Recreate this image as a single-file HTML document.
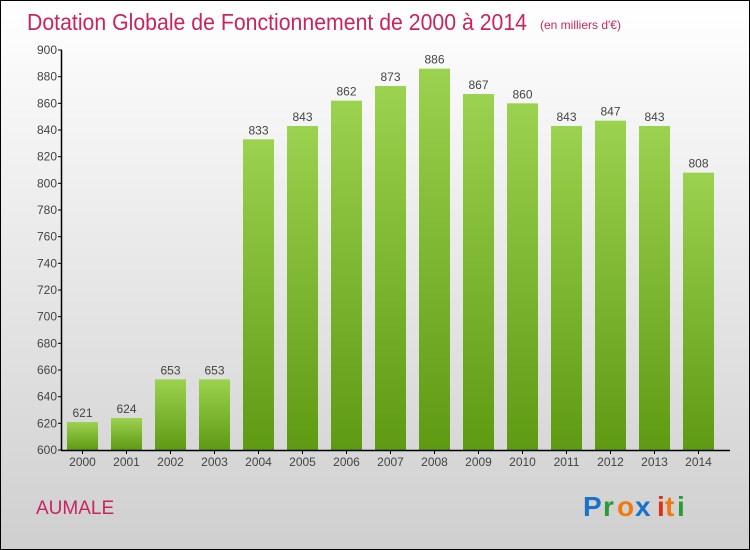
<!DOCTYPE html>
<html><head><meta charset="utf-8"><style>
body{margin:0}
#c{width:750px;height:550px;position:relative;overflow:hidden}
text{font-family:"Liberation Sans",sans-serif}
</style></head><body>
<div id="c">
<svg id="s" width="750" height="550" xmlns="http://www.w3.org/2000/svg">
<defs>
<linearGradient id="bg" x1="0" y1="0" x2="0" y2="1"><stop offset="0" stop-color="#ffffff"/><stop offset="1" stop-color="#cfcfcf"/></linearGradient>
<linearGradient id="bar" x1="0" y1="0" x2="0" y2="1"><stop offset="0" stop-color="#9bd24f"/><stop offset="1" stop-color="#5f9a13"/></linearGradient>
</defs>
<rect x="0.5" y="0.5" width="749" height="549" fill="url(#bg)" stroke="#000"/>
<text x="27" y="30" font-size="23" fill="#c8255f" textLength="500" lengthAdjust="spacingAndGlyphs">Dotation Globale de Fonctionnement de 2000 à 2014</text>
<text x="540" y="29" font-size="12" fill="#c8255f">(en milliers d'€)</text>
<text x="36" y="514" font-size="19" fill="#c8255f">AUMALE</text>
<g font-size="28" font-weight="bold">
<text x="583" y="516" fill="#1a73c8">P</text><text x="603" y="516" fill="#2a9a3a">r</text><text x="617" y="516" fill="#f07a10">o</text><text x="635" y="516" fill="#1a73c8">x</text><text x="657" y="516" fill="#e03010">i</text><text x="665" y="516" fill="#f07a10">t</text><text x="677" y="516" fill="#2a9a3a">i</text>
</g>
<g id="plot"></g>
</svg>
</div>
<script>
const years=["2000","2001","2002","2003","2004","2005","2006","2007","2008","2009","2010","2011","2012","2013","2014"];
const values=[621,624,653,653,833,843,862,873,886,867,860,843,847,843,808];
const ticks=[600,620,640,660,680,700,720,740,760,780,800,820,840,860,880,900];
const NS="http://www.w3.org/2000/svg";
const g=document.getElementById('plot');
const y0=450,y1=50,vmin=600,vmax=900;
const y=v=>y0-(v-vmin)/(vmax-vmin)*(y0-y1);
const x=i=>82.5+i*44;
function mk(t,a){const e=document.createElementNS(NS,t);for(const k in a)e.setAttribute(k,a[k]);g.appendChild(e);return e;}
values.forEach((v,i)=>{
 const r=mk('rect',{x:x(i)-15.5,y:y(v),width:31,height:y0-y(v),fill:'url(#bar)'});
 
 
 const t=mk('text',{x:x(i),y:y(v)-5,'text-anchor':'middle','font-size':12,fill:'#444'});
 t.textContent=v;
 
 
 const xl=mk('text',{x:x(i),y:y0+16,'text-anchor':'middle','font-size':12,fill:'#444'});
 xl.textContent=years[i];
 
 
 mk('line',{x1:x(i),x2:x(i),y1:y0,y2:y0+4,stroke:'#000'});
});
ticks.forEach(v=>{
 mk('line',{x1:58,x2:62,y1:y(v),y2:y(v),stroke:'#000'});
 const t=mk('text',{x:57,y:y(v)+4,'text-anchor':'end','font-size':12,fill:'#444'});
 t.textContent=v;
 
 
});
const ya=mk('line',{x1:61.5,x2:61.5,y1:y1,y2:y0+0.5,stroke:'#000','stroke-width':1.5});


const xa=mk('line',{x1:61,x2:730,y1:y0+0.5,y2:y0+0.5,stroke:'#000','stroke-width':1.5});


</script>
</body></html>
